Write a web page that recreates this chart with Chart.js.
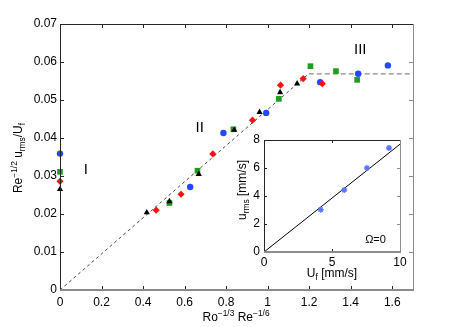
<!DOCTYPE html>
<html>
<head>
<meta charset="utf-8">
<script src="https://cdn.jsdelivr.net/npm/chart.js@4.4.0/dist/chart.umd.min.js"></script>
<style>
html, body { margin: 0; padding: 0; background: #fff; }
#wrap { position: relative; width: 456px; height: 327px; }
#main { position: absolute; left: 0; top: 0; }
#inset { position: absolute; left: 224px; top: 128px; }
</style>
</head>
<body>
<div id="wrap">
  <canvas id="main" width="456" height="327"></canvas>
  <canvas id="inset" width="196" height="160"></canvas>
</div>
<script>
// main plot data
const blueX  = [0, 0.627, 0.787, 0.993, 1.253, 1.436, 1.579];
const blueY  = [0.0359, 0.0271, 0.0413, 0.0466, 0.0547, 0.0569, 0.0591];
const redX   = [0, 0.463, 0.583, 0.736, 0.927, 1.062, 1.171, 1.263];
const redY   = [0.0286, 0.0210, 0.0252, 0.0358, 0.0447, 0.0539, 0.0556, 0.0543];
const greenX = [0, 0.527, 0.662, 0.835, 1.054, 1.206, 1.329, 1.431];
const greenY = [0.0311, 0.0229, 0.0314, 0.0423, 0.0503, 0.0589, 0.0576, 0.0553];
const blackX = [0, 0.418, 0.527, 0.668, 0.839, 0.961, 1.060, 1.142];
const blackY = [0.0265, 0.0204, 0.0233, 0.0305, 0.0421, 0.0468, 0.0520, 0.0543];

// dashed guide lines
const slopeX = [0, 1.198];
const slopeY = [0, 0.0569];
const plateauX = [1.198, 1.7];
const plateauY = [0.0569, 0.0569];

const xTicks = [0, 0.2, 0.4, 0.6, 0.8, 1, 1.2, 1.4, 1.6];
const yTicks = [0, 0.01, 0.02, 0.03, 0.04, 0.05, 0.06, 0.07];

const regionText = ['I', 'II', 'III'];
const regionX = [0.125, 0.673, 1.446];
const regionY = [0.0315, 0.0428, 0.0633];

// inset data
const insetX = [4.17, 5.9, 7.57, 9.19];
const insetY = [3.02, 4.43, 6.0, 7.43];
const insetFitX = [0, 10];
const insetFitY = [0, 7.7];
const insetXTicks = [0, 5, 10];
const insetYTicks = [0, 2, 4, 6, 8];
const insetNote = 'Ω=0';
const insetNoteX = 8.2;
const insetNoteY = 0.88;

const FONT = '"Liberation Sans", Arial, Helvetica, sans-serif';

function pts(xs, ys) {
  return xs.map((x, i) => ({x: x, y: ys[i]}));
}

function fmt(v) {
  return v === 0 ? '0' : String(+v.toFixed(2));
}

function drawRich(ctx, parts, x, y, size, rotated) {
  ctx.save();
  ctx.translate(x, y);
  if (rotated) ctx.rotate(-Math.PI / 2);
  ctx.fillStyle = '#000';
  ctx.textBaseline = 'alphabetic';
  ctx.textAlign = 'left';
  const fontFor = k => (k ? Math.round(size * 0.7 * 10) / 10 : size) + 'px ' + FONT;
  let w = 0;
  parts.forEach(p => { ctx.font = fontFor(p[1]); w += ctx.measureText(p[0]).width; });
  let cx = -w / 2;
  parts.forEach(p => {
    ctx.font = fontFor(p[1]);
    let dy = 0;
    if (p[1] === 'sup') dy = -size * 0.42;
    if (p[1] === 'sub') dy = size * 0.28;
    ctx.fillText(p[0], cx, dy);
    cx += ctx.measureText(p[0]).width;
  });
  ctx.restore();
}

// box with inward tick marks on all four sides
function frameTicks(len) {
  return {
    id: 'frameTicks',
    beforeDraw(chart) {
      const a = chart.chartArea;
      chart.ctx.save();
      chart.ctx.fillStyle = '#fff';
      chart.ctx.fillRect(a.left, a.top, a.right - a.left, a.bottom - a.top);
      chart.ctx.restore();
    },
    afterDraw(chart) {
      const {ctx, chartArea: a, scales: {x, y}} = chart;
      ctx.save();
      ctx.lineWidth = 1;
      ctx.strokeStyle = '#262626';
      ctx.beginPath();
      x.ticks.forEach(t => {
        const px = Math.round(x.getPixelForValue(t.value)) + 0.5;
        ctx.moveTo(px, a.top); ctx.lineTo(px, a.top + len);
        ctx.moveTo(px, a.bottom); ctx.lineTo(px, a.bottom - len);
      });
      y.ticks.forEach(t => {
        const py = Math.round(y.getPixelForValue(t.value)) + 0.5;
        ctx.moveTo(a.left, py); ctx.lineTo(a.left + len, py);
      });
      ctx.stroke();
      ctx.strokeStyle = '#8c8c8c';
      ctx.beginPath();
      y.ticks.forEach(t => {
        const py = Math.round(y.getPixelForValue(t.value)) + 0.5;
        ctx.moveTo(a.right, py); ctx.lineTo(a.right - len, py);
      });
      ctx.stroke();
      // left and top edges dark, right and bottom lighter
      ctx.strokeStyle = '#262626';
      ctx.beginPath();
      ctx.moveTo(Math.round(a.left) + 0.5, Math.round(a.bottom));
      ctx.lineTo(Math.round(a.left) + 0.5, Math.round(a.top) + 0.5);
      ctx.lineTo(Math.round(a.right), Math.round(a.top) + 0.5);
      ctx.stroke();
      ctx.strokeStyle = '#8c8c8c';
      ctx.beginPath();
      ctx.moveTo(Math.round(a.right) + 0.5, Math.round(a.top));
      ctx.lineTo(Math.round(a.right) + 0.5, Math.round(a.bottom));
      ctx.stroke();
      ctx.lineWidth = 2;
      ctx.beginPath();
      ctx.moveTo(Math.round(a.left), Math.round(a.bottom));
      ctx.lineTo(Math.round(a.right) + 1, Math.round(a.bottom));
      ctx.stroke();
      ctx.restore();
    }
  };
}

const mainText = {
  id: 'mainText',
  afterDraw(chart) {
    const {ctx, scales: {x, y}} = chart;
    ctx.save();
    ctx.fillStyle = '#000';
    ctx.font = '15px ' + FONT;
    ctx.textAlign = 'center';
    ctx.textBaseline = 'middle';
    regionText.forEach((t, i) => {
      ctx.fillText(t, x.getPixelForValue(regionX[i]), y.getPixelForValue(regionY[i]));
    });
    ctx.restore();
    drawRich(ctx, [['Ro', ''], ['−1/3', 'sup'], [' Re', ''], ['−1/6', 'sup']], 236, 321, 12, false);
    drawRich(ctx, [['Re', ''], ['−1/2', 'sup'], [' u', ''], ['rms', 'sub'], ['/U', ''], ['f', 'sub']], 22, 158, 12, true);
  }
};

const insetText = {
  id: 'insetText',
  afterDraw(chart) {
    const {ctx, scales: {x, y}} = chart;
    ctx.save();
    ctx.fillStyle = '#000';
    ctx.font = '11px ' + FONT;
    ctx.textAlign = 'center';
    ctx.textBaseline = 'middle';
    ctx.fillText(insetNote, x.getPixelForValue(insetNoteX), y.getPixelForValue(insetNoteY));
    ctx.restore();
    drawRich(ctx, [['U', ''], ['f', 'sub'], [' [mm/s]', '']], 108, 149, 12, false);
    drawRich(ctx, [['u', ''], ['rms', 'sub'], [' [mm/s]', '']], 22, 62, 12, true);
  }
};

function axis(min, max, ticks, fitKey, fitVal, pad) {
  return {
    type: 'linear',
    min: min,
    max: max,
    afterBuildTicks: s => { s.ticks = ticks.map(v => ({value: v})); },
    afterFit: s => { s[fitKey] = fitVal; },
    grid: {display: false, drawTicks: false},
    border: {display: false},
    ticks: {
      autoSkip: false,
      maxRotation: 0,
      padding: pad,
      color: '#000',
      font: {size: 12, family: FONT},
      callback: v => fmt(v)
    }
  };
}

new Chart(document.getElementById('main'), {
  type: 'scatter',
  data: {
    datasets: [
      {data: pts(blackX, blackY), pointStyle: 'triangle', pointRadius: 3.6, clip: false,
       backgroundColor: '#000', borderColor: '#000', borderWidth: 0},
      {data: pts(greenX, greenY), pointStyle: 'rect', pointRadius: 4, clip: false,
       backgroundColor: '#1e9e1e', borderColor: '#1e9e1e', borderWidth: 0},
      {data: pts(redX, redY), pointStyle: 'rectRot', pointRadius: 3.6, clip: false,
       backgroundColor: '#ff1010', borderColor: '#ff1010', borderWidth: 0},
      {data: pts(blueX, blueY), pointStyle: 'circle', pointRadius: 3.2, clip: false,
       backgroundColor: '#2448ff', borderColor: '#2448ff', borderWidth: 0},
      {data: pts(slopeX, slopeY), showLine: true, pointRadius: 0,
       borderColor: '#4a4a4a', borderWidth: 1, borderDash: [3, 3]},
      {data: pts(plateauX, plateauY), showLine: true, pointRadius: 0,
       borderColor: '#8a8a8a', borderWidth: 1.3, borderDash: [5, 3]}
    ]
  },
  options: {
    responsive: false,
    animation: false,
    devicePixelRatio: 1,
    events: [],
    layout: {padding: {top: 24, right: 43, left: 0, bottom: 0}},
    plugins: {legend: {display: false}, tooltip: {enabled: false}},
    scales: {
      x: axis(0, 1.7, xTicks, 'height', 37, 5),
      y: axis(0, 0.07, yTicks, 'width', 60, 3)
    }
  },
  plugins: [frameTicks(4), mainText]
});

new Chart(document.getElementById('inset'), {
  type: 'scatter',
  data: {
    datasets: [
      {data: pts(insetX, insetY), pointStyle: 'star', pointRadius: 3,
       borderColor: '#5a78ff', backgroundColor: '#5a78ff', borderWidth: 1.4},
      {data: pts(insetFitX, insetFitY), showLine: true, pointRadius: 0,
       borderColor: '#000', borderWidth: 1}
    ]
  },
  options: {
    responsive: false,
    animation: false,
    devicePixelRatio: 1,
    events: [],
    layout: {padding: {top: 12, right: 20, left: 0, bottom: 0}},
    plugins: {legend: {display: false}, tooltip: {enabled: false}},
    scales: {
      x: axis(0, 10, insetXTicks, 'height', 36, 3),
      y: axis(0, 8, insetYTicks, 'width', 40, 4)
    }
  },
  plugins: [frameTicks(3), insetText]
});
</script>
</body>
</html>
